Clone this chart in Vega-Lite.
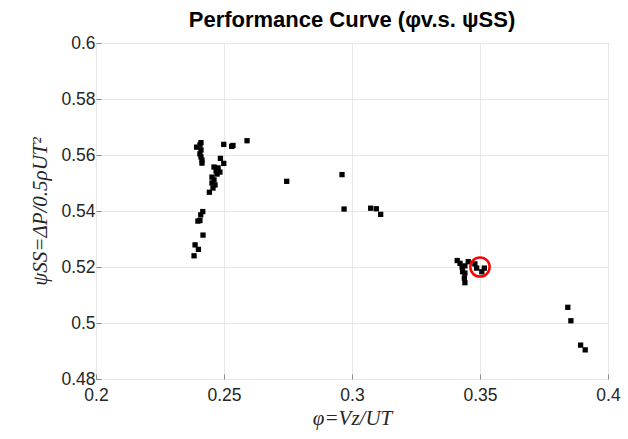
{
  "$schema": "https://vega.github.io/schema/vega-lite/v6.json",
  "width": 512,
  "height": 336,
  "autosize": "none",
  "padding": {"left": 96, "top": 43, "right": 20, "bottom": 60},
  "background": "white",
  "config": {
    "view": {"stroke": "#8a8a8a", "strokeWidth": 1},
    "axis": {
      "labelFont": "Liberation Sans",
      "labelFontSize": 17.5,
      "labelColor": "#262626",
      "labelFlush": false,
      "labelOverlap": false,
      "domain": false,
      "ticks": true,
      "tickColor": "#8a8a8a",
      "tickSize": -5,
      "gridColor": "#e8e8e8",
      "gridWidth": 1,
      "titleFont": "Liberation Serif",
      "titleFontSize": 21,
      "titleFontWeight": "normal",
      "titleFontStyle": "italic",
      "titleColor": "#262626"
    },
    "title": {"font": "Liberation Sans", "fontSize": 22, "fontWeight": "bold", "color": "#000000"}
  },
  "title": {"text": "Performance Curve (φv.s. ψSS)", "offset": 2},
  "layer": [
    {
      "data": {
        "values": [
          {"phi": 0.2410, "psi": 0.5644}, {"phi": 0.2393, "psi": 0.5628}, {"phi": 0.2406, "psi": 0.5636},
          {"phi": 0.2410, "psi": 0.5618}, {"phi": 0.2406, "psi": 0.5604}, {"phi": 0.2410, "psi": 0.5593},
          {"phi": 0.2414, "psi": 0.5582}, {"phi": 0.2414, "psi": 0.5571}, {"phi": 0.2499, "psi": 0.5638},
          {"phi": 0.2530, "psi": 0.5631}, {"phi": 0.2535, "psi": 0.5634}, {"phi": 0.2590, "psi": 0.5651},
          {"phi": 0.2486, "psi": 0.5588}, {"phi": 0.2499, "psi": 0.5570}, {"phi": 0.2461, "psi": 0.5557},
          {"phi": 0.2477, "psi": 0.5554}, {"phi": 0.2469, "psi": 0.5543}, {"phi": 0.2484, "psi": 0.5539},
          {"phi": 0.2473, "psi": 0.5532}, {"phi": 0.2453, "psi": 0.5521}, {"phi": 0.2461, "psi": 0.5511},
          {"phi": 0.2453, "psi": 0.5500}, {"phi": 0.2465, "psi": 0.5493}, {"phi": 0.2457, "psi": 0.5482},
          {"phi": 0.2443, "psi": 0.5467}, {"phi": 0.2417, "psi": 0.5398}, {"phi": 0.2409, "psi": 0.5386},
          {"phi": 0.2406, "psi": 0.5366}, {"phi": 0.2398, "psi": 0.5364}, {"phi": 0.2418, "psi": 0.5314},
          {"phi": 0.2387, "psi": 0.5279}, {"phi": 0.2400, "psi": 0.5263}, {"phi": 0.2383, "psi": 0.5240},
          {"phi": 0.2745, "psi": 0.5506}, {"phi": 0.2961, "psi": 0.5530}, {"phi": 0.2969, "psi": 0.5407},
          {"phi": 0.3073, "psi": 0.5410}, {"phi": 0.3095, "psi": 0.5408}, {"phi": 0.3112, "psi": 0.5388},
          {"phi": 0.3411, "psi": 0.5223}, {"phi": 0.3422, "psi": 0.5213}, {"phi": 0.3430, "psi": 0.5200},
          {"phi": 0.3441, "psi": 0.5204}, {"phi": 0.3432, "psi": 0.5183}, {"phi": 0.3441, "psi": 0.5178},
          {"phi": 0.3439, "psi": 0.5160}, {"phi": 0.3441, "psi": 0.5144}, {"phi": 0.3454, "psi": 0.5219},
          {"phi": 0.3480, "psi": 0.5211}, {"phi": 0.3487, "psi": 0.5196}, {"phi": 0.3507, "psi": 0.5183},
          {"phi": 0.3517, "psi": 0.5196},
          {"phi": 0.3843, "psi": 0.5056}, {"phi": 0.3855, "psi": 0.5008}, {"phi": 0.3893, "psi": 0.4921},
          {"phi": 0.3911, "psi": 0.4904}
        ]
      },
      "mark": {"type": "square", "color": "#000000", "opacity": 1, "size": 28},
      "encoding": {
        "x": {
          "field": "phi", "type": "quantitative",
          "scale": {"domain": [0.2, 0.4], "nice": false, "zero": false},
          "axis": {"values": [0.2, 0.25, 0.3, 0.35, 0.4], "format": "~g", "title": "φ=Vz/UT", "titlePadding": 4, "labelPadding": 12}
        },
        "y": {
          "field": "psi", "type": "quantitative",
          "scale": {"domain": [0.48, 0.6], "nice": false, "zero": false},
          "axis": {"values": [0.48, 0.5, 0.52, 0.54, 0.56, 0.58, 0.6], "format": "~g", "title": "ψSS=ΔP/0.5ρUT²", "titlePadding": 10, "labelPadding": 6}
        }
      }
    },
    {
      "data": {"values": [{"phi": 0.35, "psi": 0.52}]},
      "mark": {"type": "point", "shape": "circle", "filled": false, "stroke": "#ff0000", "strokeWidth": 2.5, "size": 370, "opacity": 1},
      "encoding": {
        "x": {"field": "phi", "type": "quantitative"},
        "y": {"field": "psi", "type": "quantitative"}
      }
    }
  ]
}
